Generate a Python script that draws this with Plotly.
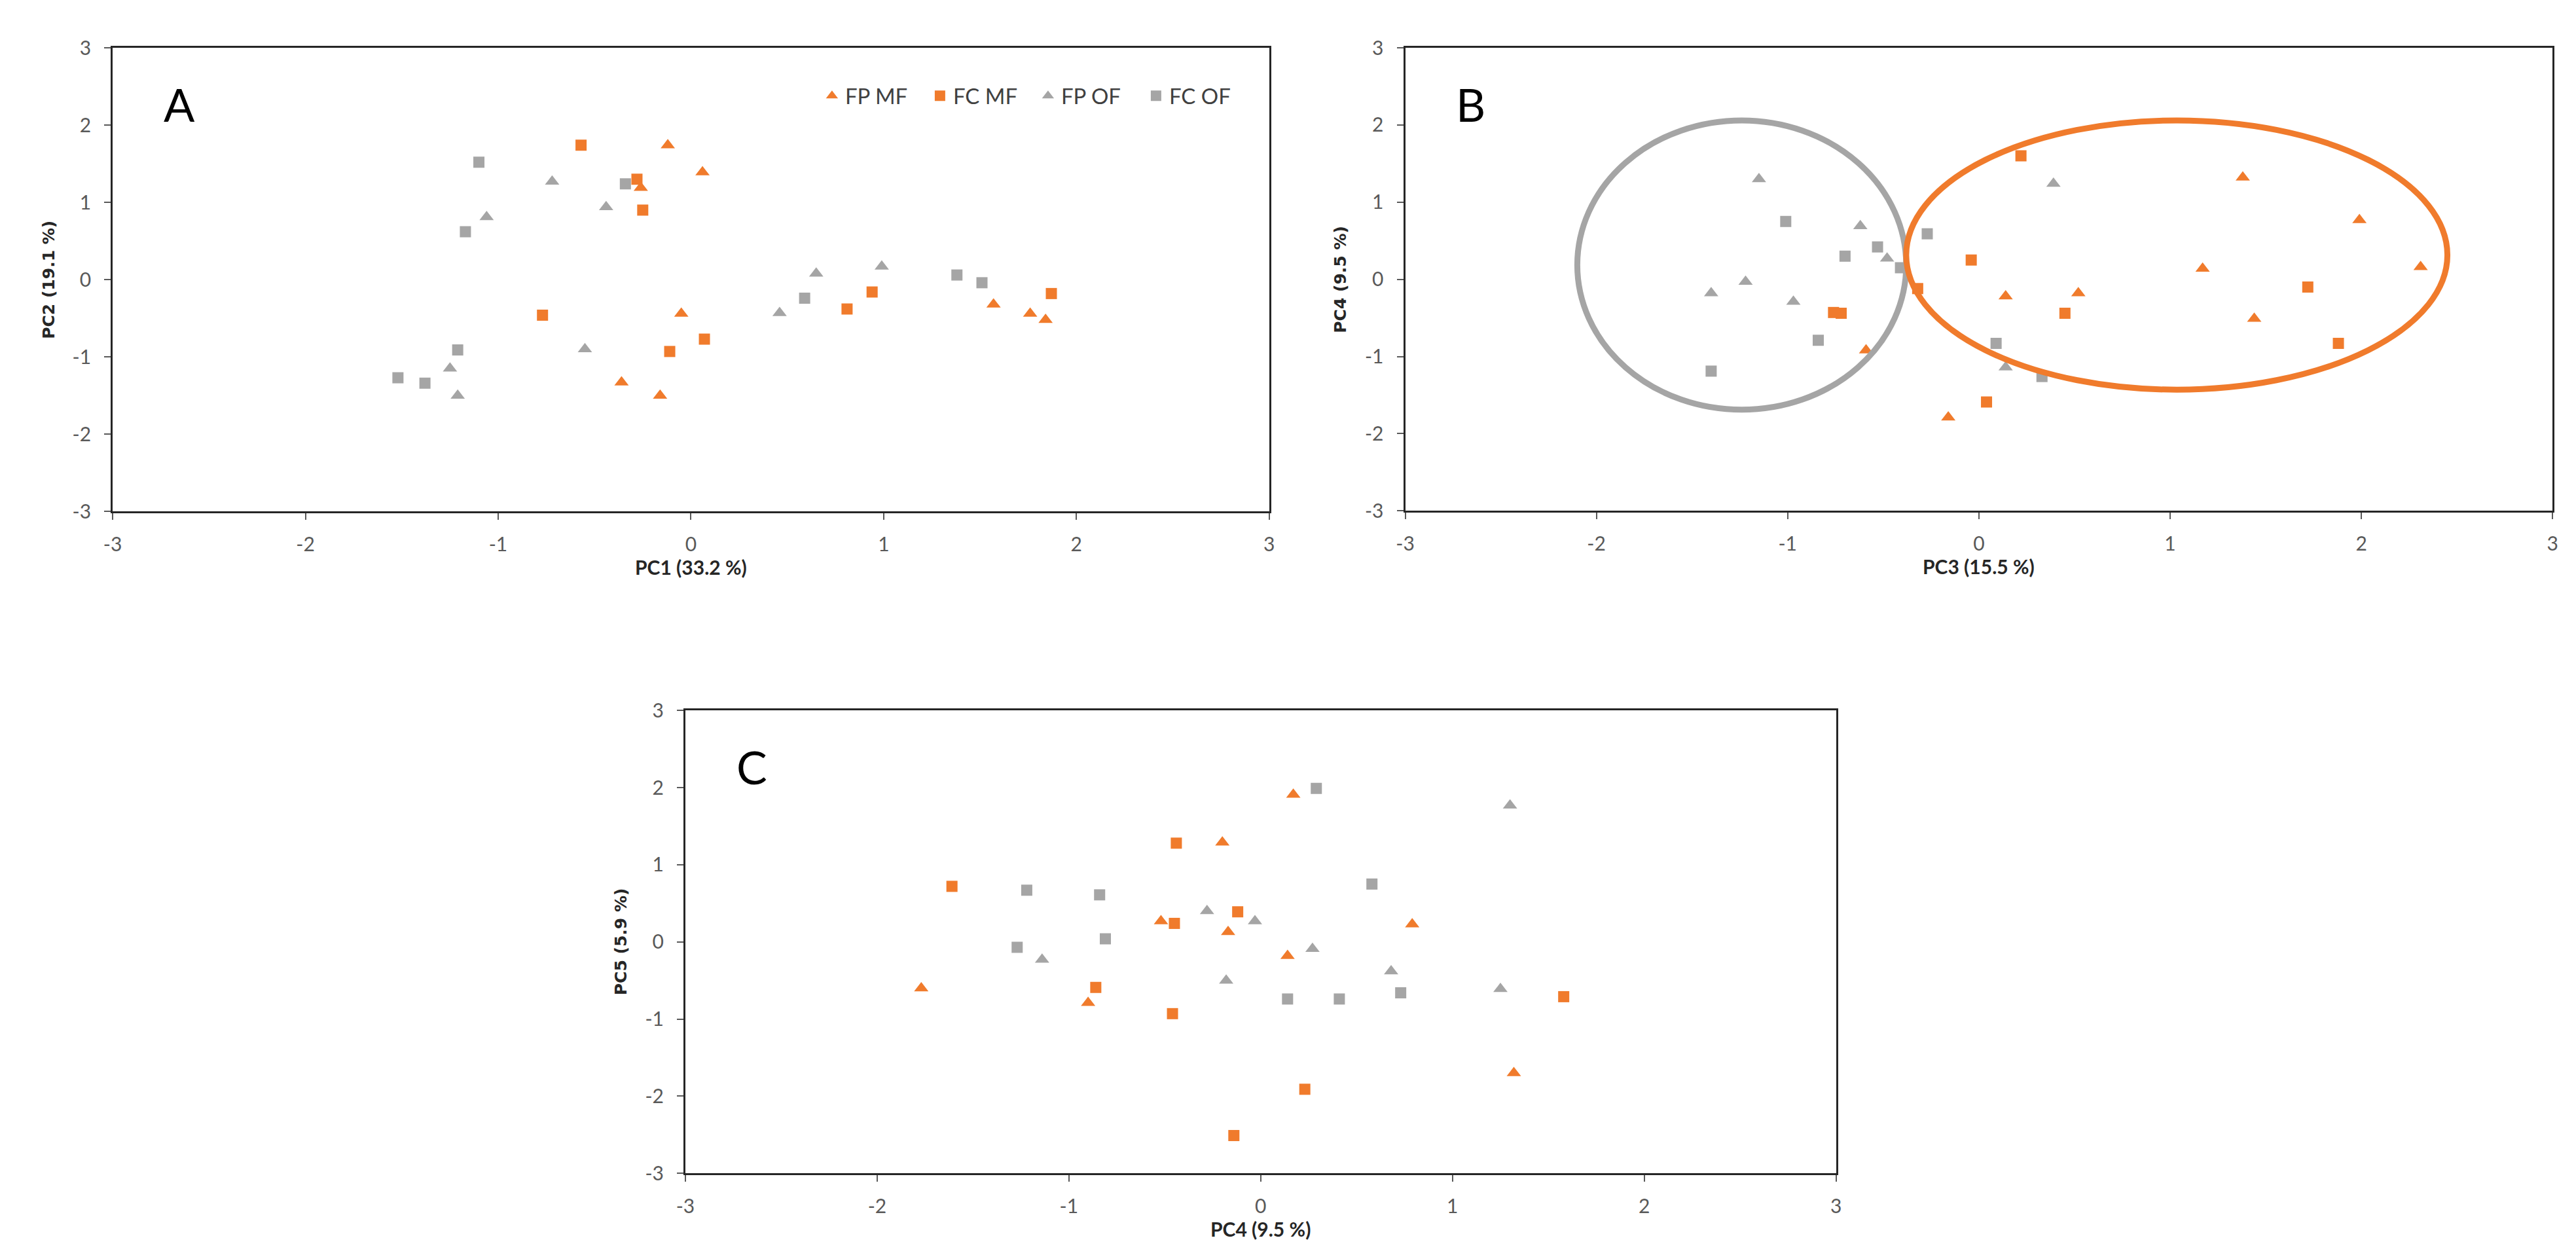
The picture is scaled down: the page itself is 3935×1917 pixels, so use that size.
import plotly.graph_objects as go

W, H = 3935, 1917

ORANGE = "#F07B2C"
GRAY = "#A5A5A5"

tick_vals = [-3, -2, -1, 0, 1, 2, 3]
tick_labels = ["-3", "-2", "-1", "0", "1", "2", "3"]

series_names = ["FP MF", "FC MF", "FP OF", "FC OF"]

# panel A : PC1 vs PC2
a_fp_mf_x = [-0.12, 0.06, -0.26, -0.05, 1.57, 1.76, 1.84, -0.36, -0.16]
a_fp_mf_y = [1.74, 1.39, 1.19, -0.44, -0.32, -0.44, -0.52, -1.33, -1.50]
a_fc_mf_x = [-0.57, -0.28, -0.25, -0.77, 0.07, -0.11, 0.81, 0.94, 1.87]
a_fc_mf_y = [1.74, 1.30, 0.90, -0.46, -0.77, -0.93, -0.38, -0.16, -0.18]
a_fp_of_x = [-0.72, -0.44, -1.06, 0.65, 0.99, 0.46, -0.55, -1.25, -1.21]
a_fp_of_y = [1.27, 0.94, 0.81, 0.08, 0.17, -0.43, -0.90, -1.15, -1.50]
a_fc_of_x = [-1.10, -0.34, -1.17, 0.59, 1.38, 1.51, -1.21, -1.52, -1.38]
a_fc_of_y = [1.52, 1.24, 0.62, -0.24, 0.06, -0.04, -0.91, -1.27, -1.34]

# panel B : PC3 vs PC4
b_fp_mf_x = [1.38, 1.99, 2.31, 1.17, 0.14, 0.52, 1.44, -0.59, -0.16]
b_fp_mf_y = [1.32, 0.77, 0.16, 0.14, -0.22, -0.18, -0.51, -0.92, -1.79]
b_fc_mf_x = [0.22, -0.04, -0.32, -0.76, -0.72, 0.45, 1.72, 1.88, 0.04]
b_fc_mf_y = [1.60, 0.25, -0.12, -0.43, -0.44, -0.44, -0.10, -0.83, -1.59]
b_fp_of_x = [-1.15, 0.39, -0.62, -0.48, -1.22, -1.40, -0.97, 0.14]
b_fp_of_y = [1.30, 1.24, 0.69, 0.27, -0.03, -0.18, -0.29, -1.14]
b_fc_of_x = [-1.01, -0.27, -0.53, -0.70, -0.41, -0.84, 0.09, 0.33, -1.40]
b_fc_of_y = [0.75, 0.59, 0.42, 0.30, 0.15, -0.79, -0.83, -1.26, -1.19]

# ellipses in panel B: [x0, x1, y0, y1]
b_gray_ellipse = [-2.10, -0.38, -1.69, 2.06]
b_orange_ellipse = [-0.38, 2.45, -1.43, 2.06]

# panel C : PC4 vs PC5
c_fp_mf_x = [0.17, -0.20, -0.52, -0.17, 0.79, 0.14, -1.77, -0.90, 1.32]
c_fp_mf_y = [1.91, 1.29, 0.27, 0.13, 0.23, -0.18, -0.60, -0.79, -1.70]
c_fc_mf_x = [-0.44, -1.61, -0.12, -0.45, -0.86, -0.46, 1.58, 0.23, -0.14]
c_fc_mf_y = [1.28, 0.72, 0.39, 0.24, -0.59, -0.93, -0.71, -1.91, -2.51]
c_fp_of_x = [1.30, -0.28, -0.03, 0.27, -1.14, -0.18, 0.68, 1.25]
c_fp_of_y = [1.77, 0.40, 0.27, -0.09, -0.23, -0.50, -0.38, -0.61]
c_fc_of_x = [0.29, 0.58, -1.22, -0.84, -0.81, -1.27, 0.14, 0.41, 0.73]
c_fc_of_y = [1.99, 0.75, 0.67, 0.61, 0.04, -0.07, -0.74, -0.74, -0.66]

panels = [
    ("x", "y", [(a_fp_mf_x, a_fp_mf_y), (a_fc_mf_x, a_fc_mf_y), (a_fp_of_x, a_fp_of_y), (a_fc_of_x, a_fc_of_y)]),
    ("x2", "y2", [(b_fp_mf_x, b_fp_mf_y), (b_fc_mf_x, b_fc_mf_y), (b_fp_of_x, b_fp_of_y), (b_fc_of_x, b_fc_of_y)]),
    ("x3", "y3", [(c_fp_mf_x, c_fp_mf_y), (c_fc_mf_x, c_fc_mf_y), (c_fp_of_x, c_fp_of_y), (c_fc_of_x, c_fc_of_y)]),
]

styles = [
    dict(color=ORANGE, symbol="triangle-up", size=19),
    dict(color=ORANGE, symbol="square", size=17),
    dict(color=GRAY, symbol="triangle-up", size=19),
    dict(color=GRAY, symbol="square", size=17),
]

fig = go.Figure()
for p, (xa, ya, groups) in enumerate(panels):
    for i, (xs, ys) in enumerate(groups):
        fig.add_trace(go.Scatter(
            x=xs, y=ys, mode="markers", name=series_names[i],
            marker=dict(line=dict(width=0), **styles[i]),
            xaxis=xa, yaxis=ya, showlegend=(p == 0),
        ))

# plot boxes in pixels (left, right, top, bottom)
boxes = [(151, 1928, 46, 768), (2137, 3900, 46, 767), (1031, 2799, 1078, 1799)]
x_titles = ["PC1 (33.2 %)", "PC3 (15.5 %)", "PC4 (9.5 %)"]
y_titles = ["PC2 (19.1 %)", "PC4 (9.5 %)", "PC5 (5.9 %)"]
letters = ["A", "B", "C"]

axis_common = dict(
    range=[-3, 3], tickvals=tick_vals, ticktext=tick_labels,
    showgrid=False, zeroline=False, showline=True, mirror=True,
    linecolor="#262626", linewidth=3, ticks="outside", ticklen=10,
    tickwidth=2, tickcolor="#595959",
    tickfont=dict(family="Lato, Carlito, sans-serif", size=30, color="#595959"),
)

layout = dict(
    width=W, height=H, margin=dict(l=0, r=0, t=0, b=0),
    paper_bgcolor="white", plot_bgcolor="white",
    legend=dict(
        orientation="h", x=1900 / W, xanchor="right", y=1 - 92 / H, yanchor="top",
        font=dict(family="Lato, Carlito, sans-serif", size=33, color="#404040"),
        bgcolor="rgba(0,0,0,0)", entrywidth=120, itemwidth=30,
    ),
    annotations=[], shapes=[],
)

for k, (l, r, t, b) in enumerate(boxes):
    sfx = "" if k == 0 else str(k + 1)
    xa = dict(axis_common, domain=[l / W, r / W], anchor="y" + sfx, ticklabelstandoff=12)
    ya = dict(axis_common, domain=[1 - b / H, 1 - t / H], anchor="x" + sfx, ticklabelstandoff=14)
    layout["xaxis" + sfx] = xa
    layout["yaxis" + sfx] = ya
    layout["annotations"].append(dict(
        text=x_titles[k], xref="paper", yref="paper", x=(l + r) / 2 / W, y=1 - (b + 86) / H,
        showarrow=False, xanchor="center", yanchor="middle",
        font=dict(family="Lato, Carlito, sans-serif", size=30, color="#262626", weight="bold"),
    ))
    layout["annotations"].append(dict(
        text=y_titles[k], xref="paper", yref="paper", x=(l - 99) / W, y=1 - (t + b) / 2 / H,
        showarrow=False, textangle=-90, xanchor="center", yanchor="middle",
        font=dict(family="DejaVu Sans, Verdana, sans-serif", size=25, color="#262626", weight="bold"),
    ))
    layout["annotations"].append(dict(
        text=letters[k], xref="paper", yref="paper", x=(l + 76) / W, y=1 - (t + 88) / H,
        showarrow=False, xanchor="left", yanchor="middle",
        font=dict(family="Lato, Carlito, sans-serif", size=70, color="black"),
    ))

for ell, col in [(b_gray_ellipse, GRAY), (b_orange_ellipse, ORANGE)]:
    layout["shapes"].append(dict(
        type="circle", xref="x2", yref="y2", x0=ell[0], x1=ell[1], y0=ell[2], y1=ell[3],
        line=dict(color=col, width=9), layer="above",
    ))

fig.update_layout(**layout)
fig.write_html("out.html")
